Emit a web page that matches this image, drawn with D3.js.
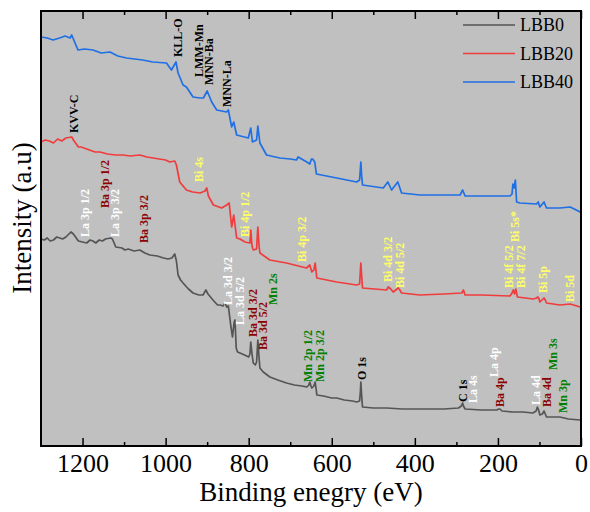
<!DOCTYPE html>
<html>
<head>
<meta charset="utf-8">
<script src="https://cdn.jsdelivr.net/npm/d3@7"></script>
<style>
  body { margin: 0; background: #fff; }
  text { font-family: "Liberation Serif", "Times New Roman", serif; }
</style>
</head>
<body>
<svg id="chart" width="590" height="512"></svg>
<script>
// binding energy (eV) / intensity (a.u.)
var be0 = [1300,1292,1285,1278,1270,1262,1255,1248,1240,1228,1222,1210,1200,1190,1182,1175,1168,1160,1152,1145,1132,1128,1120,1105,1098,1090,1076,1062,1050,1038,1020,1005,994,985,978,974,970,964,958,945,934,920,910,903,898,886,875,869,862,857,853,849,843,839,835,833,830,827,821,810,800,797,795,792,789,784,781,778,775,773,765,749,730,709,690,672,660,655,653,650,648,643,640,637,636,620,600,588,570,550,540,533,531,530,528,526,500,468,430,388,330,295,288,285,283,279,240,210,203,198,195,190,164,140,116,108,105,102,99,93,89,86,83,70,51,30,2];
var lbb0 = [207,206,208,205,206,209,208,207,209,214,212,205,204,203,206,205,203,206,205,207,208,207,199,198,196,197,195,196,193,191,190,188,187,188,192,185,171,166,163,157,153,151,151,156,152,146,141,141,140,143,139,140,120,109,124,126,98,94,93,91,89,92,104,92,83,81,84,106,88,78,74,69,66,63,61,60,59,61,64,60,58,60,64,55,51,50,48,48,46,45,44,45,55,64,50,39,38,38,37,37,37,38,40,43,40,37,36,36,36,37,37,35,34,34,33,35,39,36,31,32,35,32,29,29,29,27,26];

var be20 = [1300,1290,1280,1270,1260,1250,1240,1226,1222,1210,1203,1190,1170,1158,1140,1120,1103,1085,1062,1045,1030,1000,990,978,974,966,950,935,917,905,901,897,885,865,853,847,841,836,829,821,809,797,795,792,789,781,778,775,773,749,709,661,653,648,643,640,636,588,540,533,530,528,526,468,464,458,452,440,436,432,388,330,287,283,279,240,171,166,163,160,157,153,115,107,104,101,99,89,86,83,51,26,2];
var lbb20 = [304,306,305,303,307,305,308,309,306,299,299,297,294,294,292,291,291,290,291,289,288,286,284,285,281,264,256,254,253,255,258,250,241,238,241,243,219,231,208,207,204,203,216,200,196,197,219,200,193,186,183,178,181,174,176,183,168,164,161,162,183,170,158,156,159,157,154,158,156,153,151,152,153,156,151,151,150,153,156,152,157,149,147,148,149,147,144,148,146,143,141,142,139];

var be40 = [1300,1285,1271,1255,1242,1230,1226,1211,1195,1175,1155,1134,1115,1094,1075,1055,1031,998,986,975,970,958,950,934,917,909,900,889,877,853,849,841,836,829,801,795,791,781,778,773,757,725,700,685,681,660,653,649,646,641,637,588,540,533,530,528,526,476,465,456,441,432,388,291,285,279,171,166,164,161,158,155,147,107,103,99,89,83,51,26,2];
var lbb40 = [409,408,406,408,410,408,411,396,397,396,393,394,390,388,387,386,384,383,376,384,373,361,359,349,348,348,355,344,336,334,336,319,324,311,308,318,304,306,320,303,291,288,287,286,289,284,282,287,287,284,272,268,264,266,284,270,261,258,264,256,264,253,251,251,256,250,250,252,262,258,266,244,243,242,244,239,244,238,238,239,234];

var seriesNames = ["LBB0", "LBB20", "LBB40"];

// peak assignments: label, binding energy, intensity where the label starts, element
var peakText = ["KVV-C","KLL-O","LMM-Mn","MNN-Ba","MNN-La",
  "La 3p 1/2","Ba 3p 1/2","La 3p 3/2","Ba 3p 3/2","La 3d 3/2","La 3d 5/2","Ba 3d 3/2","Ba 3d 5/2","Mn 2s",
  "Mn 2p 1/2","Mn 2p 3/2","O 1s","C 1s","La 4s","La 4p","Ba 4p","La 4d","Ba 4d","Mn 3s","Mn 3p",
  "Bi 4s","Bi 4p 1/2","Bi 4p 3/2","Bi 4d 3/2","Bi 4d 5/2","Bi 4f 5/2","Bi 5s*","Bi 4f 7/2","Bi 5p","Bi 5d"];
var peakBE = [1221,970,921,897,853,
  1194,1146,1122,1052,850,821,789,765,741,
  657,628,528,285,261,209,195,108,83,68,44,
  921,809,673,464,436,173,159,145,91,28];
var peakAt = [313,389,369,361,339,
  209,238,209,203,141,121,109,96,141,
  64,64,66,44,43,69,39,41,39,76,33,
  264,209,184,164,158,158,204,158,153,144];
var peakEl = ["X","X","X","X","X",
  "La","Ba","La","Ba","La","La","Ba","Ba","Mn",
  "Mn","Mn","X","X","La","La","Ba","La","Ba","Mn","Mn",
  "Bi","Bi","Bi","Bi","Bi","Bi","Bi","Bi","Bi","Bi"];

var xMajor = [1200,1000,800,600,400,200,0];
var xMinor = [1100,900,700,500,300,100];

var lineColors = ["#555555", "#f03c3c", "#1f6fe5"];
var elColors = {X: "#000000", La: "#ffffff", Ba: "#8b0000", Mn: "#008000", Bi: "#ffff66"};

var svg = d3.select("#chart");
var m = {left: 41, right: 581, top: 11, bottom: 446};

var x = d3.scaleLinear().domain([1300, 0]).range([m.left, m.right]);
var y = d3.scaleLinear().domain([0, 435]).range([m.bottom, m.top]);

svg.append("rect")
  .attr("x", m.left).attr("y", m.top)
  .attr("width", m.right - m.left).attr("height", m.bottom - m.top)
  .attr("fill", "#c0c0c0");

var series = [d3.zip(be0, lbb0), d3.zip(be20, lbb20), d3.zip(be40, lbb40)];
var line = d3.line().x(function(d) { return x(d[0]); }).y(function(d) { return y(d[1]); });

svg.selectAll("path.spec").data(series).enter()
  .append("path")
  .attr("class", "spec")
  .attr("d", line)
  .attr("fill", "none")
  .attr("stroke", function(d, i) { return lineColors[i]; })
  .attr("stroke-width", 1.7)
  .attr("stroke-linejoin", "round");

// peak labels
var peaks = d3.range(peakText.length);
svg.selectAll("text.peak").data(peaks).enter()
  .append("text")
  .attr("class", "peak")
  .attr("transform", function(i) { return "translate(" + x(peakBE[i]) + "," + y(peakAt[i]) + ") rotate(-90)"; })
  .attr("dy", "0.35em")
  .attr("font-size", 12)
  .attr("font-weight", "bold")
  .attr("fill", function(i) { return elColors[peakEl[i]]; })
  .text(function(i) { return peakText[i]; });

// axes with inward ticks
var gB = svg.append("g").attr("transform", "translate(0," + m.bottom + ")");
gB.call(d3.axisBottom(x).tickValues(xMinor).tickSize(-4).tickFormat(""));
var gB2 = svg.append("g").attr("transform", "translate(0," + m.bottom + ")");
gB2.call(d3.axisBottom(x).tickValues(xMajor).tickSize(-8).tickPadding(8).tickFormat(d3.format("d")));
var gT = svg.append("g").attr("transform", "translate(0," + m.top + ")");
gT.call(d3.axisTop(x).tickValues(xMinor).tickSize(-4).tickFormat(""));
var gT2 = svg.append("g").attr("transform", "translate(0," + m.top + ")");
gT2.call(d3.axisTop(x).tickValues(xMajor).tickSize(-8).tickFormat(""));

svg.selectAll(".domain").remove();
svg.selectAll(".tick line").attr("stroke", "#000").attr("stroke-width", 1.5);
gB2.selectAll("text").attr("font-size", 26).attr("fill", "#000")
  .style("font-family", "'Liberation Serif', 'Times New Roman', serif");

svg.append("rect")
  .attr("x", m.left).attr("y", m.top)
  .attr("width", m.right - m.left).attr("height", m.bottom - m.top)
  .attr("fill", "none").attr("stroke", "#000").attr("stroke-width", 2);

// axis titles
svg.append("text")
  .attr("x", (m.left + m.right) / 2).attr("y", 501)
  .attr("text-anchor", "middle").attr("font-size", 27)
  .text("Binding enegry (eV)");
svg.append("text")
  .attr("transform", "translate(31,218) rotate(-90)")
  .attr("text-anchor", "middle").attr("font-size", 27)
  .text("Intensity (a.u)");

// legend
var leg = svg.selectAll("g.leg").data(seriesNames).enter()
  .append("g").attr("class", "leg")
  .attr("transform", function(d, i) { return "translate(463," + (25 + i * 28.5) + ")"; });
leg.append("line").attr("x1", 0).attr("x2", 52)
  .attr("stroke", function(d, i) { return lineColors[i]; }).attr("stroke-width", 1.5);
leg.append("text").attr("x", 57).attr("dy", "0.35em").attr("font-size", 18)
  .text(function(d) { return d; });
</script>
</body>
</html>
